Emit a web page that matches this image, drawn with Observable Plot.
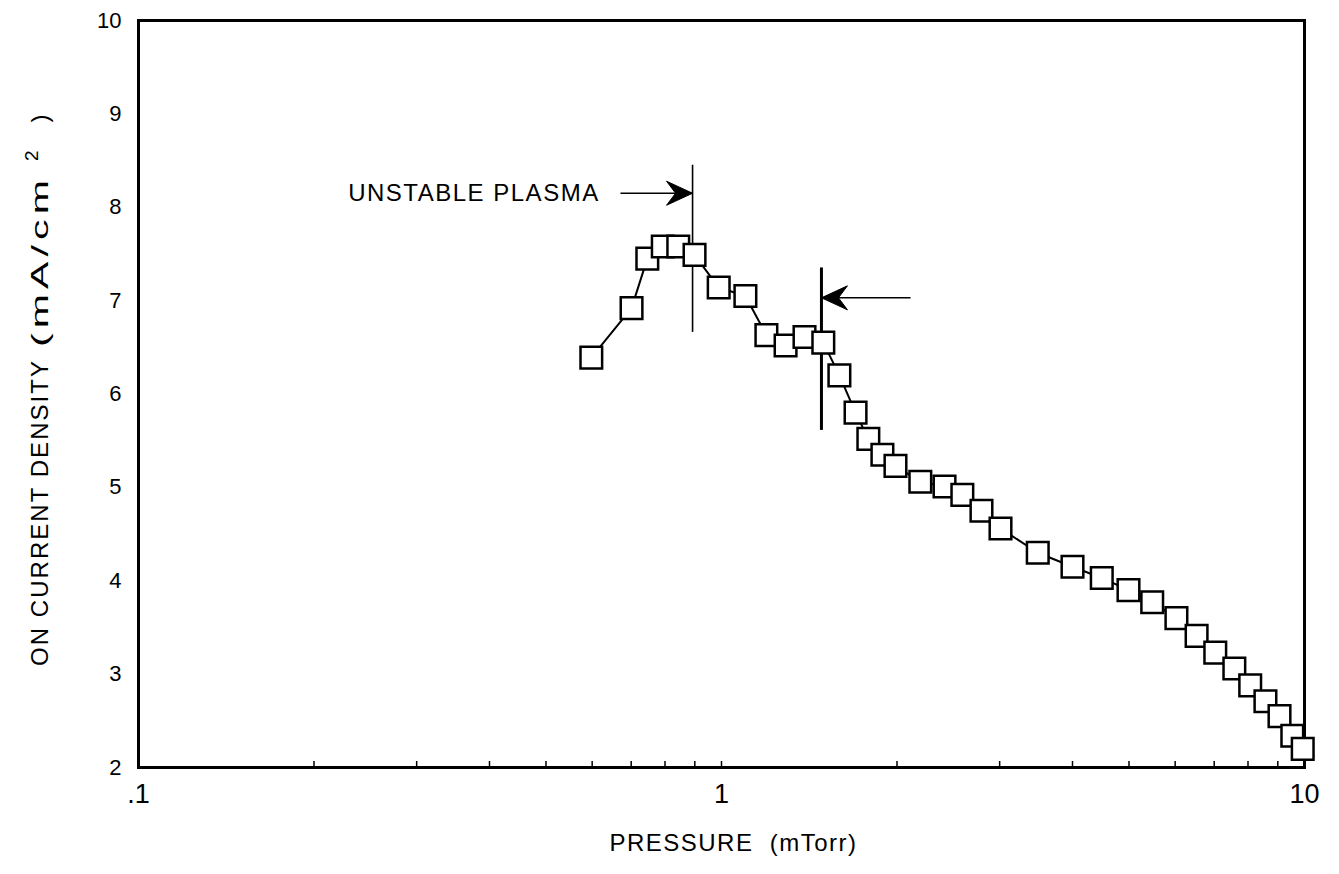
<!DOCTYPE html>
<html><head><meta charset="utf-8">
<script src="https://cdn.jsdelivr.net/npm/d3@7"></script>
<script src="https://cdn.jsdelivr.net/npm/@observablehq/plot@0.6"></script>
<style>body{margin:0;background:#fff} svg{display:block}</style>
</head><body><div id="chart"></div>
<script>
// Measured series
const pressure = [0.598,0.701,0.746,0.793,0.843,0.899,0.989,1.099,1.194,1.288,1.388,1.495,1.593,1.698,1.786,1.888,1.988,2.193,2.413,2.589,2.792,3.010,3.487,4.00,4.49,4.99,5.48,6.03,6.53,7.03,7.58,8.07,8.57,9.06,9.53,9.93];
const density  = [6.39,6.92,7.45,7.58,7.58,7.49,7.14,7.05,6.63,6.52,6.61,6.55,6.20,5.80,5.52,5.35,5.23,5.06,5.01,4.92,4.75,4.56,4.30,4.15,4.03,3.90,3.77,3.60,3.41,3.23,3.06,2.88,2.71,2.55,2.34,2.20];

// Axis ticks
const xMajorTicks = [0.1, 1, 10];
const xMajorLabels = [".1", "1", "10"];
const xMinorTicks = [0.2,0.3,0.4,0.5,0.6,0.7,0.8,0.9,1,2,3,4,5,6,7,8,9];
const yTicks = [2,3,4,5,6,7,8,9,10];

// Annotations (plasma stability boundaries)
const boundaryP    = [0.892, 1.484];
const boundaryLow  = [6.66, 5.61];
const boundaryHigh = [8.45, 7.35];
const arrowFrom    = [0.671, 2.11];
const arrowLevel   = [8.15, 7.03];
const noteText     = ["UNSTABLE PLASMA"];
const noteP        = [0.618];
const noteLevel    = [8.15];

const rows = pressure.map((p, i) => ({p, v: density[i]}));

const headRight = {draw(ctx) { ctx.moveTo(0,0); ctx.lineTo(-26,-12); ctx.lineTo(-17,0); ctx.lineTo(-26,12); ctx.closePath(); }};
const headLeft  = {draw(ctx) { ctx.moveTo(0,0); ctx.lineTo(26,-12); ctx.lineTo(17,0); ctx.lineTo(26,12); ctx.closePath(); }};

const chart = Plot.plot({
  width: 1339, height: 874,
  marginLeft: 138, marginRight: 35, marginTop: 20, marginBottom: 107,
  style: {fontFamily: "'Liberation Sans', Arial, sans-serif", color: "black", background: "white"},
  x: {type: "log", domain: [0.1, 10]},
  y: {domain: [2, 10]},
  marks: [
    Plot.axisX({ticks: xMinorTicks, tickSize: -6, tickFormat: () => "", strokeWidth: 1.5, label: null}),
    Plot.axisX({ticks: xMajorTicks, tickSize: 0, tickPadding: 16, fontSize: 27, tickFormat: (d) => xMajorLabels[xMajorTicks.indexOf(d)], label: null}),
    Plot.axisY({ticks: yTicks, tickSize: 0, tickPadding: 17, fontSize: 22, tickFormat: d3.format("d"), label: null}),
    Plot.frame({stroke: "black", strokeWidth: 3}),
    // boundary lines
    Plot.ruleX([0], {x: () => boundaryP[0], y1: () => boundaryLow[0], y2: () => boundaryHigh[0], stroke: "black", strokeWidth: 1.6}),
    Plot.ruleX([1], {x: () => boundaryP[1], y1: () => boundaryLow[1], y2: () => boundaryHigh[1], stroke: "black", strokeWidth: 3}),
    // arrow shafts
    Plot.link([0, 1], {x1: (i) => arrowFrom[i], x2: (i) => boundaryP[i], y1: (i) => arrowLevel[i], y2: (i) => arrowLevel[i], stroke: "black", strokeWidth: 1.6}),
    Plot.dot([0], {x: () => boundaryP[0], y: () => arrowLevel[0], symbol: headRight, fill: "black", stroke: "black", strokeWidth: 1}),
    Plot.dot([1], {x: () => boundaryP[1], y: () => arrowLevel[1], symbol: headLeft, fill: "black", stroke: "black", strokeWidth: 1}),
    Plot.text(noteText, {x: (d, i) => noteP[i], y: (d, i) => noteLevel[i], text: (d) => d, textAnchor: "end", fontSize: 24, fill: "black", className: "note"}),
    // data
    Plot.line(rows, {x: "p", y: "v", stroke: "black", strokeWidth: 2}),
    Plot.dot(rows, {x: "p", y: "v", symbol: "square", r: 12.2, fill: "white", stroke: "black", strokeWidth: 2.5}),
    // axis titles
    Plot.text(["PRESSURE  (mTorr)"], {frameAnchor: "bottom", dx: 12, dy: 76, text: (d) => d, textAnchor: "middle", lineAnchor: "middle", fontSize: 24, fill: "black", className: "xlab"}),
    Plot.text(["ON CURRENT DENSITY (mA/cm 2 )"], {frameAnchor: "left", dx: -98, dy: 272, rotate: -90, text: (d) => d, textAnchor: "start", lineAnchor: "middle", fontSize: 24, fill: "black", className: "ylab"})
  ]
});

const xl = chart.querySelector("g.xlab text");
if (xl) xl.setAttribute("letter-spacing", "1.5");
const nt = chart.querySelector("g.note text");
if (nt) nt.setAttribute("letter-spacing", "1.5");
const yl = chart.querySelector("g.ylab text");
if (yl) {
  yl.textContent = "";
  const ns = "http://www.w3.org/2000/svg";
  const mk = (t, attrs) => { const s = document.createElementNS(ns, "tspan"); s.textContent = t; for (const k in attrs) s.setAttribute(k, attrs[k]); return s; };
  yl.append(
    mk("ON CURRENT DENSITY", {textLength: 305, lengthAdjust: "spacing"}),
    mk("(mA/cm", {dx: 12, textLength: 172, lengthAdjust: "spacingAndGlyphs", "letter-spacing": 3}),
    mk("2", {dx: 14, dy: -10, "font-size": 19}),
    mk(")", {dx: 28, dy: 10})
  );
}
document.getElementById("chart").append(chart);
</script>
</body></html>
